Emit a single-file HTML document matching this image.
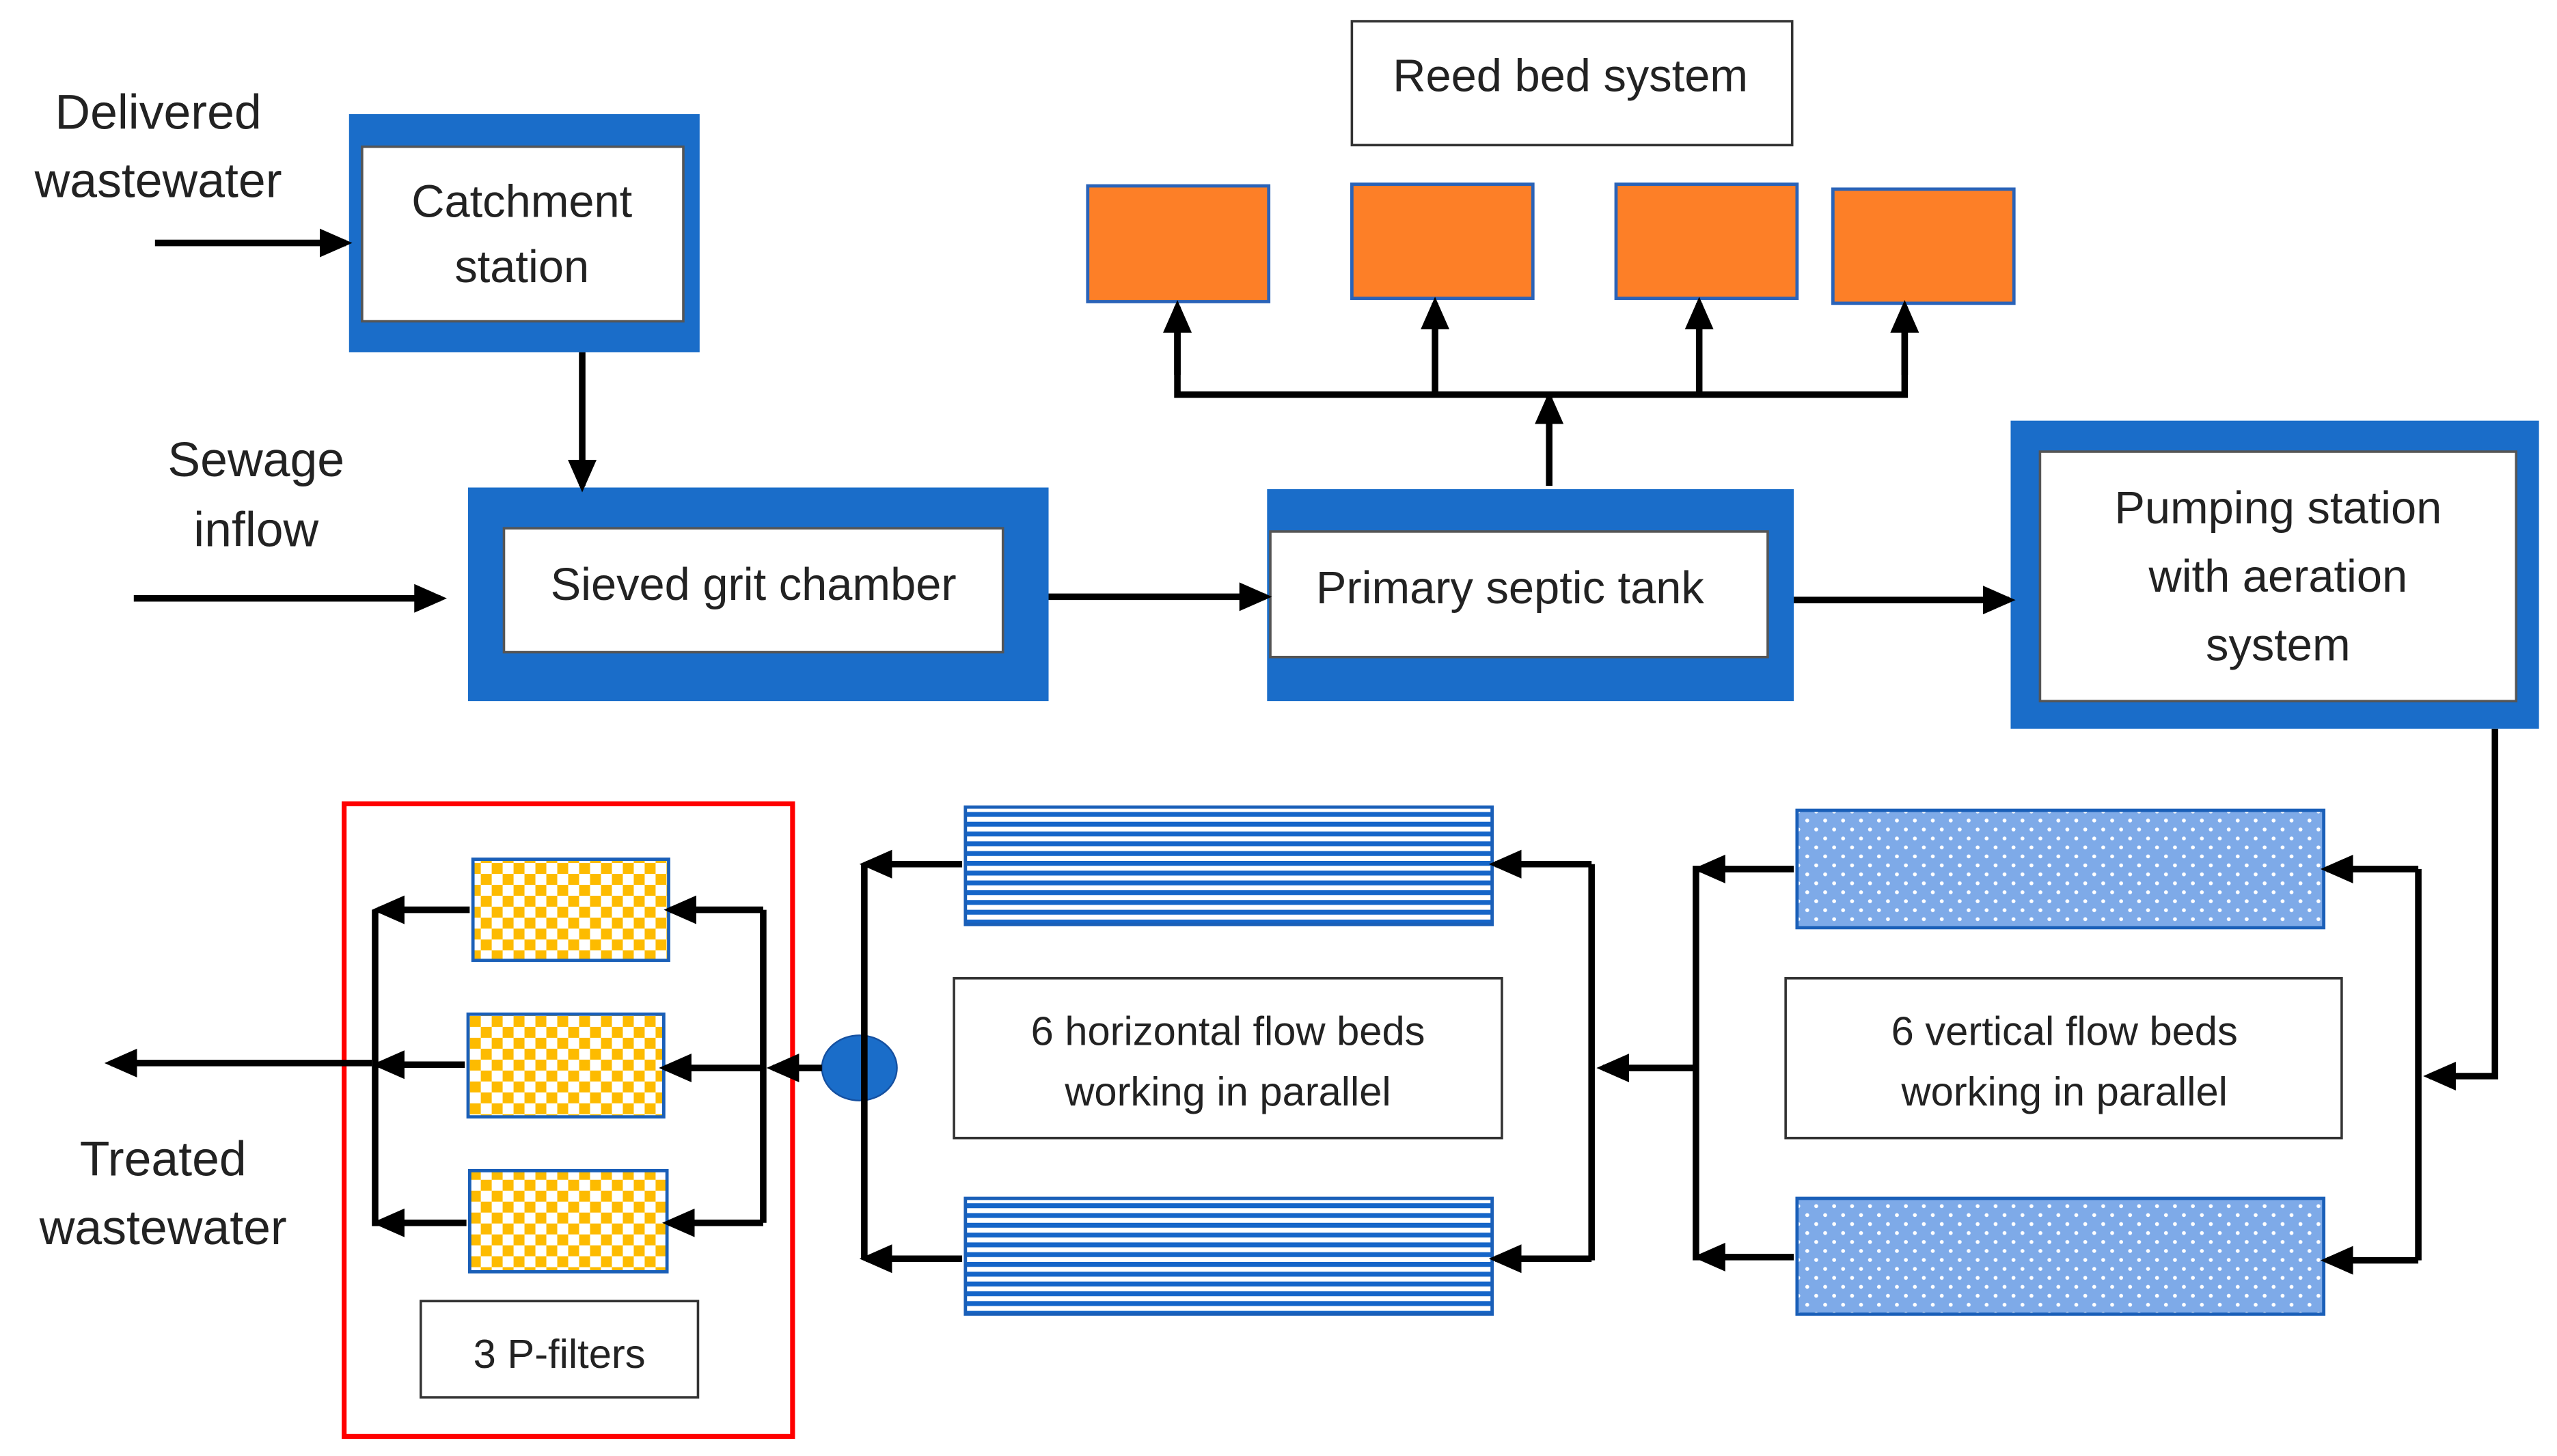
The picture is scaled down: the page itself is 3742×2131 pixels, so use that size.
<!DOCTYPE html>
<html><head><meta charset="utf-8"><style>html,body{margin:0;padding:0;background:#fff}svg{display:block}</style></head><body>
<svg width="3742" height="2131" viewBox="0 0 1568 893" xmlns="http://www.w3.org/2000/svg" font-family="Liberation Sans, sans-serif">
<defs>
<marker id="a" markerWidth="5" markerHeight="5" refX="4" refY="2.5" orient="auto" markerUnits="strokeWidth"><path d="M0,0.3 L5,2.5 L0,4.7 Z" fill="#000"/></marker>
<pattern id="chk" width="13.4" height="13.4" patternUnits="userSpaceOnUse"><rect width="13.4" height="13.4" fill="#fff"/><rect width="6.7" height="6.7" fill="#fdbb00"/><rect x="6.7" y="6.7" width="6.7" height="6.7" fill="#fdbb00"/></pattern>
<pattern id="str" width="10" height="6" patternUnits="userSpaceOnUse"><rect width="10" height="6" fill="#fff"/><rect y="0" width="10" height="3" fill="#1565c8"/></pattern>
<pattern id="dot" width="11" height="11" patternUnits="userSpaceOnUse"><rect width="11" height="11" fill="#7eaae8"/><circle cx="2.75" cy="2.75" r="1.2" fill="#fff"/><circle cx="8.25" cy="8.25" r="1.2" fill="#fff"/></pattern>
</defs>
<g fill="#222" font-size="30" text-anchor="middle">
<text x="97" y="79">Delivered</text><text x="97" y="121">wastewater</text>
<text x="157" y="292">Sewage</text><text x="157" y="335">inflow</text>
<text x="100" y="721">Treated</text><text x="100" y="763">wastewater</text>
</g>
<g fill="#1a6dc9">
<rect x="214" y="70" width="215" height="146"/>
<rect x="287" y="299" width="356" height="131"/>
<rect x="777" y="300" width="323" height="130"/>
<rect x="1233" y="258" width="324" height="189"/>
</g>
<g fill="#fff" stroke="#555" stroke-width="1.5">
<rect x="222" y="90" width="197" height="107"/>
<rect x="309" y="324" width="306" height="76"/>
<rect x="779" y="326" width="305" height="77"/>
<rect x="1251" y="277" width="292" height="153"/>
<rect x="829" y="13" width="270" height="76" stroke="#333"/>
<rect x="585" y="600" width="336" height="98" stroke="#333"/>
<rect x="1095" y="600" width="341" height="98" stroke="#333"/>
<rect x="258" y="798" width="170" height="59" stroke="#333"/>
</g>
<g fill="#222" font-size="28" text-anchor="middle">
<text x="320" y="133">Catchment</text><text x="320" y="173">station</text>
<text x="462" y="368">Sieved grit chamber</text>
<text x="926" y="370">Primary septic tank</text>
<text x="1397" y="321">Pumping station</text><text x="1397" y="363">with aeration</text><text x="1397" y="405">system</text>
<text x="963" y="56">Reed bed system</text>
<text x="753" y="641" font-size="25">6 horizontal flow beds</text><text x="753" y="678" font-size="25">working in parallel</text>
<text x="1266" y="641" font-size="25">6 vertical  flow beds</text><text x="1266" y="678" font-size="25">working in parallel</text>
<text x="343" y="839" font-size="25">3 P-filters</text>
</g>
<g fill="#fd7f27" stroke="#2a63b8" stroke-width="2">
<rect x="667" y="114" width="111" height="71"/>
<rect x="829" y="113" width="111" height="70"/>
<rect x="991" y="113" width="111" height="70"/>
<rect x="1124" y="116" width="111" height="70"/>
</g>
<g stroke="#1a5fb8" stroke-width="2">
<rect x="592" y="495" width="323" height="72" fill="url(#str)"/>
<rect x="592" y="735" width="323" height="71" fill="url(#str)"/>
<rect x="1102" y="497" width="323" height="72" fill="url(#dot)"/>
<rect x="1102" y="735" width="323" height="71" fill="url(#dot)"/>
<rect x="290" y="527" width="120" height="62" fill="url(#chk)"/>
<rect x="287" y="622" width="120" height="63" fill="url(#chk)"/>
<rect x="288" y="718" width="121" height="62" fill="url(#chk)"/>
</g>
<rect x="211" y="493" width="275" height="388" fill="none" stroke="#f00" stroke-width="3"/>
<ellipse cx="527" cy="655" rx="23" ry="20" fill="#1a6dc9" stroke="#1550a0" stroke-width="1"/>
<g stroke="#000" stroke-width="4" fill="none">
<line x1="95" y1="149" x2="212" y2="149" marker-end="url(#a)"/>
<line x1="357" y1="216" x2="357" y2="298" marker-end="url(#a)"/>
<line x1="82" y1="367" x2="270" y2="367" marker-end="url(#a)"/>
<line x1="643" y1="366" x2="776" y2="366" marker-end="url(#a)"/>
<line x1="1100" y1="368" x2="1232" y2="368" marker-end="url(#a)"/>
<line x1="950" y1="298" x2="950" y2="244" marker-end="url(#a)"/>
<polyline points="722,200 722,242 1168,242 1168,200"/>
<line x1="722" y1="230" x2="722" y2="188" marker-end="url(#a)"/>
<line x1="880" y1="242" x2="880" y2="186" marker-end="url(#a)"/>
<line x1="1042" y1="242" x2="1042" y2="186" marker-end="url(#a)"/>
<line x1="1168" y1="230" x2="1168" y2="188" marker-end="url(#a)"/>
<polyline points="1530,447 1530,660 1490,660" marker-end="url(#a)"/>
<polyline points="1483,533 1483,773"/>
<line x1="1483" y1="533" x2="1427" y2="533" marker-end="url(#a)"/>
<line x1="1483" y1="773" x2="1427" y2="773" marker-end="url(#a)"/>
<line x1="1100" y1="533" x2="1042" y2="533" marker-end="url(#a)"/>
<line x1="1100" y1="771" x2="1042" y2="771" marker-end="url(#a)"/>
<polyline points="1040,531 1040,773"/>
<line x1="1040" y1="655" x2="983" y2="655" marker-end="url(#a)"/>
<polyline points="976,530 976,773"/>
<line x1="976" y1="530" x2="917" y2="530" marker-end="url(#a)"/>
<line x1="976" y1="772" x2="917" y2="772" marker-end="url(#a)"/>
<line x1="590" y1="530" x2="531" y2="530" marker-end="url(#a)"/>
<line x1="590" y1="772" x2="531" y2="772" marker-end="url(#a)"/>
<polyline points="530,530 530,772"/>
<line x1="504" y1="655" x2="474" y2="655" marker-end="url(#a)"/>
<polyline points="468,558 468,750"/>
<line x1="468" y1="558" x2="411" y2="558" marker-end="url(#a)"/>
<line x1="468" y1="655" x2="408" y2="655" marker-end="url(#a)"/>
<line x1="468" y1="750" x2="410" y2="750" marker-end="url(#a)"/>
<line x1="288" y1="558" x2="232" y2="558" marker-end="url(#a)"/>
<line x1="285" y1="653" x2="232" y2="653" marker-end="url(#a)"/>
<line x1="286" y1="750" x2="232" y2="750" marker-end="url(#a)"/>
<polyline points="230,558 230,752"/>
<line x1="228" y1="652" x2="68" y2="652" marker-end="url(#a)"/>
</g>
</svg>
</body></html>
